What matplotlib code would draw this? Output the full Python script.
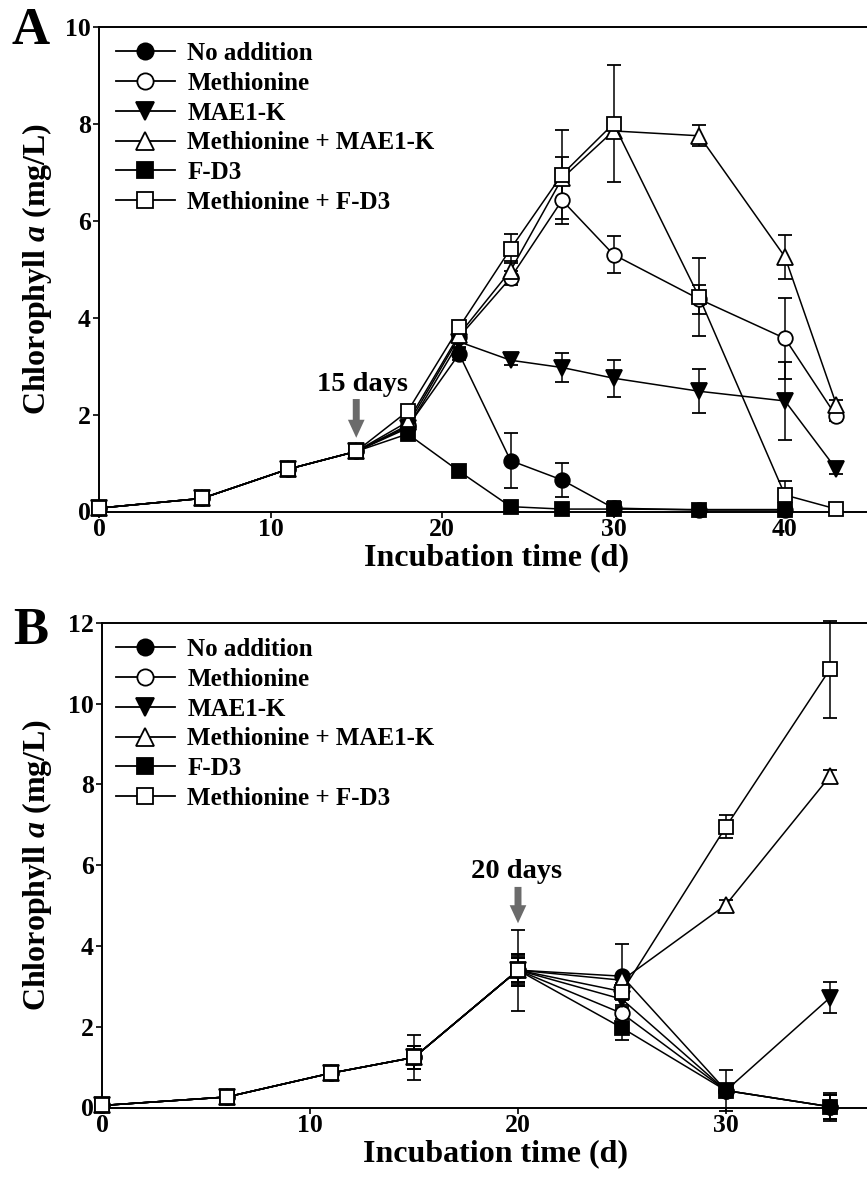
import matplotlib
matplotlib.use("Agg")
import matplotlib.pyplot as plt
from matplotlib.lines import Line2D

plt.rcParams['font.family'] = ['Liberation Serif', 'DejaVu Serif']
plt.rcParams['font.weight'] = 'bold'
plt.rcParams['mathtext.fontset'] = 'custom'
plt.rcParams['mathtext.it'] = 'Liberation Serif:italic:bold'
plt.rcParams['mathtext.rm'] = 'Liberation Serif:bold'

# ---------------- data ----------------
labels = ["No addition", "Methionine", "MAE1-K", "Methionine + MAE1-K", "F-D3", "Methionine + F-D3"]

days_a = [0, 6, 11, 15, 18, 21, 24, 27, 30, 35, 40, 43]
noadd_a = [0.07, 0.27, 0.87, 1.24, 1.75, 3.25, 1.05, 0.65, 0.07, 0.03, 0.03]
noadd_a_err = [0.04, 0.08, 0.08, 0.1, 0.1, 0.12, 0.56, 0.35, 0.15, 0.03, 0.03]
meth_a = [0.07, 0.27, 0.87, 1.24, 1.78, 3.6, 4.82, 6.42, 5.3, 4.38, 3.57, 1.96]
meth_a_err = [0.04, 0.08, 0.08, 0.1, 0.1, 0.1, 0.15, 0.5, 0.38, 0.3, 0.83, 0.1]
mae_a = [0.07, 0.27, 0.87, 1.24, 1.72, 3.5, 3.12, 2.97, 2.75, 2.48, 2.28, 0.87]
mae_a_err = [0.04, 0.08, 0.08, 0.1, 0.1, 0.1, 0.1, 0.3, 0.38, 0.45, 0.8, 0.1]
mmae_a = [0.07, 0.27, 0.87, 1.24, 1.85, 3.65, 4.97, 6.87, 7.85, 7.75, 5.25, 2.2]
mmae_a_err = [0.04, 0.08, 0.08, 0.1, 0.1, 0.1, 0.2, 0.45, 0.15, 0.22, 0.45, 0.1]
fd3_a = [0.07, 0.27, 0.87, 1.24, 1.6, 0.83, 0.1, 0.05, 0.05, 0.04, 0.04]
fd3_a_err = [0.04, 0.08, 0.08, 0.1, 0.1, 0.08, 0.05, 0.05, 0.05, 0.03, 0.03]
mfd3_a = [0.07, 0.27, 0.87, 1.24, 2.07, 3.8, 5.42, 6.95, 8.0, 4.42, 0.34, 0.05]
mfd3_a_err = [0.04, 0.08, 0.08, 0.1, 0.1, 0.1, 0.3, 0.92, 1.2, 0.8, 0.28, 0.03]

days_b = [0, 6, 11, 15, 20, 25, 30, 35]
noadd_b = [0.05, 0.26, 0.85, 1.24, 3.4, 3.25, 0.42, 0.02]
noadd_b_err = [0.03, 0.08, 0.1, 0.55, 1.0, 0.8, 0.5, 0.3]
meth_b = [0.05, 0.26, 0.85, 1.24, 3.4, 2.33, 0.42, 0.02]
meth_b_err = [0.03, 0.08, 0.1, 0.28, 0.4, 0.15, 0.1, 0.3]
mae_b = [0.05, 0.26, 0.85, 1.24, 3.4, 2.68, 0.42, 2.72]
mae_b_err = [0.03, 0.08, 0.1, 0.28, 0.3, 0.15, 0.1, 0.38]
mmae_b = [0.05, 0.26, 0.85, 1.24, 3.4, 3.15, 5.02, 8.2]
mmae_b_err = [0.03, 0.08, 0.1, 0.1, 0.35, 0.12, 0.12, 0.15]
fd3_b = [0.05, 0.26, 0.85, 1.24, 3.4, 1.97, 0.42, 0.02]
fd3_b_err = [0.03, 0.08, 0.1, 0.28, 0.3, 0.3, 0.1, 0.35]
mfd3_b = [0.05, 0.26, 0.85, 1.24, 3.4, 2.87, 6.95, 10.85]
mfd3_b_err = [0.03, 0.08, 0.1, 0.1, 0.4, 0.2, 0.29, 1.2]

series_a = [(noadd_a, noadd_a_err), (meth_a, meth_a_err), (mae_a, mae_a_err),
            (mmae_a, mmae_a_err), (fd3_a, fd3_a_err), (mfd3_a, mfd3_a_err)]
series_b = [(noadd_b, noadd_b_err), (meth_b, meth_b_err), (mae_b, mae_b_err),
            (mmae_b, mmae_b_err), (fd3_b, fd3_b_err), (mfd3_b, mfd3_b_err)]

markers = ['o', 'o', 'v', '^', 's', 's']
faces = ['black', 'white', 'black', 'white', 'black', 'white']
msize_factor = [1.0, 1.0, 1.12, 1.12, 0.95, 0.95]

W, H = 867, 1180
fig = plt.figure(figsize=(W / 100, H / 100), dpi=100)

def px_axes(left, top, bottom, right=W):
    return fig.add_axes([left / W, 1 - bottom / H, (right - left) / W, (bottom - top) / H])

axA = px_axes(99, 26.7, 511.5)
axB = px_axes(102, 622.7, 1107.5)

MS = 10.5
FS_LEG = 18
FS_TICK = 18.5
FS_LAB = 23

def draw(ax, left_px, days, series, xmax, ymax, yticks, xticks):
    for (vals, errs), m, fc, f in zip(series, markers, faces, msize_factor):
        x = days[:len(vals)]
        ax.errorbar(x, vals, yerr=errs, color='black', lw=1.1, marker=m, ms=MS * f,
                    mfc=fc, mec='black', mew=1.3, capsize=5, elinewidth=1.1,
                    capthick=1.1, clip_on=False, zorder=3)
    ax.set_xlim(0, xmax)
    ax.set_ylim(0, ymax)
    ax.set_xticks(xticks)
    ax.set_yticks(yticks)
    ax.spines['right'].set_visible(False)
    for s in ['left', 'bottom', 'top']:
        ax.spines[s].set_linewidth(1.4)
    ax.tick_params(direction='out', length=4.5, width=1.2, labelsize=FS_TICK, pad=1.5)
    ax.tick_params(axis='x', pad=0.5)
    for t in ax.get_xticklabels() + ax.get_yticklabels():
        t.set_fontweight('bold')
    ax.set_xlabel('Incubation time (d)', fontsize=FS_LAB, fontweight='bold')
    ax.set_ylabel(r'Chlorophyll $\mathit{a}$ (mg/L)', fontsize=FS_LAB, fontweight='bold')
    span = W - left_px
    ax.xaxis.set_label_coords((496 - left_px) / span, -0.066)
    ax.yaxis.set_label_coords((54 - left_px) / span, 0.5)
    handles = [Line2D([], [], color='black', lw=1.3, marker=m, ms=(MS + 1.2) * f, mfc=fc,
                      mec='black', mew=1.3) for m, fc, f in zip(markers, faces, msize_factor)]
    leg = ax.legend(handles, labels, loc='upper left',
                    bbox_to_anchor=((116 - left_px) / span, 0.968),
                    frameon=False, fontsize=FS_LEG, handlelength=2.35, handletextpad=0.5,
                    labelspacing=0.27, borderpad=0, borderaxespad=0)
    for t in leg.get_texts():
        t.set_fontweight('bold')

draw(axA, 99, days_a, series_a, (W - 99) / 17.15, 10, [0, 2, 4, 6, 8, 10], [0, 10, 20, 30, 40])
draw(axB, 102, days_b, series_b, (W - 102) / 20.8, 12, [0, 2, 4, 6, 8, 10, 12], [0, 10, 20, 30])

arrow_col = '#6b6b6b'
astyle = 'simple,head_width=1.2,head_length=1.3,tail_width=0.5'
axA.annotate('', xy=(15, 1.52), xytext=(15, 2.32),
             arrowprops=dict(arrowstyle=astyle, color=arrow_col, lw=0, mutation_scale=10,
                             shrinkA=0, shrinkB=0))
axA.text(15.35, 2.62, '15 days', ha='center', va='center', fontsize=20.5, fontweight='bold')
axB.annotate('', xy=(20, 4.56), xytext=(20, 5.46),
             arrowprops=dict(arrowstyle=astyle, color=arrow_col, lw=0, mutation_scale=10,
                             shrinkA=0, shrinkB=0))
axB.text(19.95, 5.84, '20 days', ha='center', va='center', fontsize=20.5, fontweight='bold')

fig.text(31 / W, 1 - 31 / H, 'A', fontsize=38, fontweight='bold', ha='center', va='center')
fig.text(31 / W, 1 - 631 / H, 'B', fontsize=38, fontweight='bold', ha='center', va='center')

fig.savefig('out.png', dpi=100)
